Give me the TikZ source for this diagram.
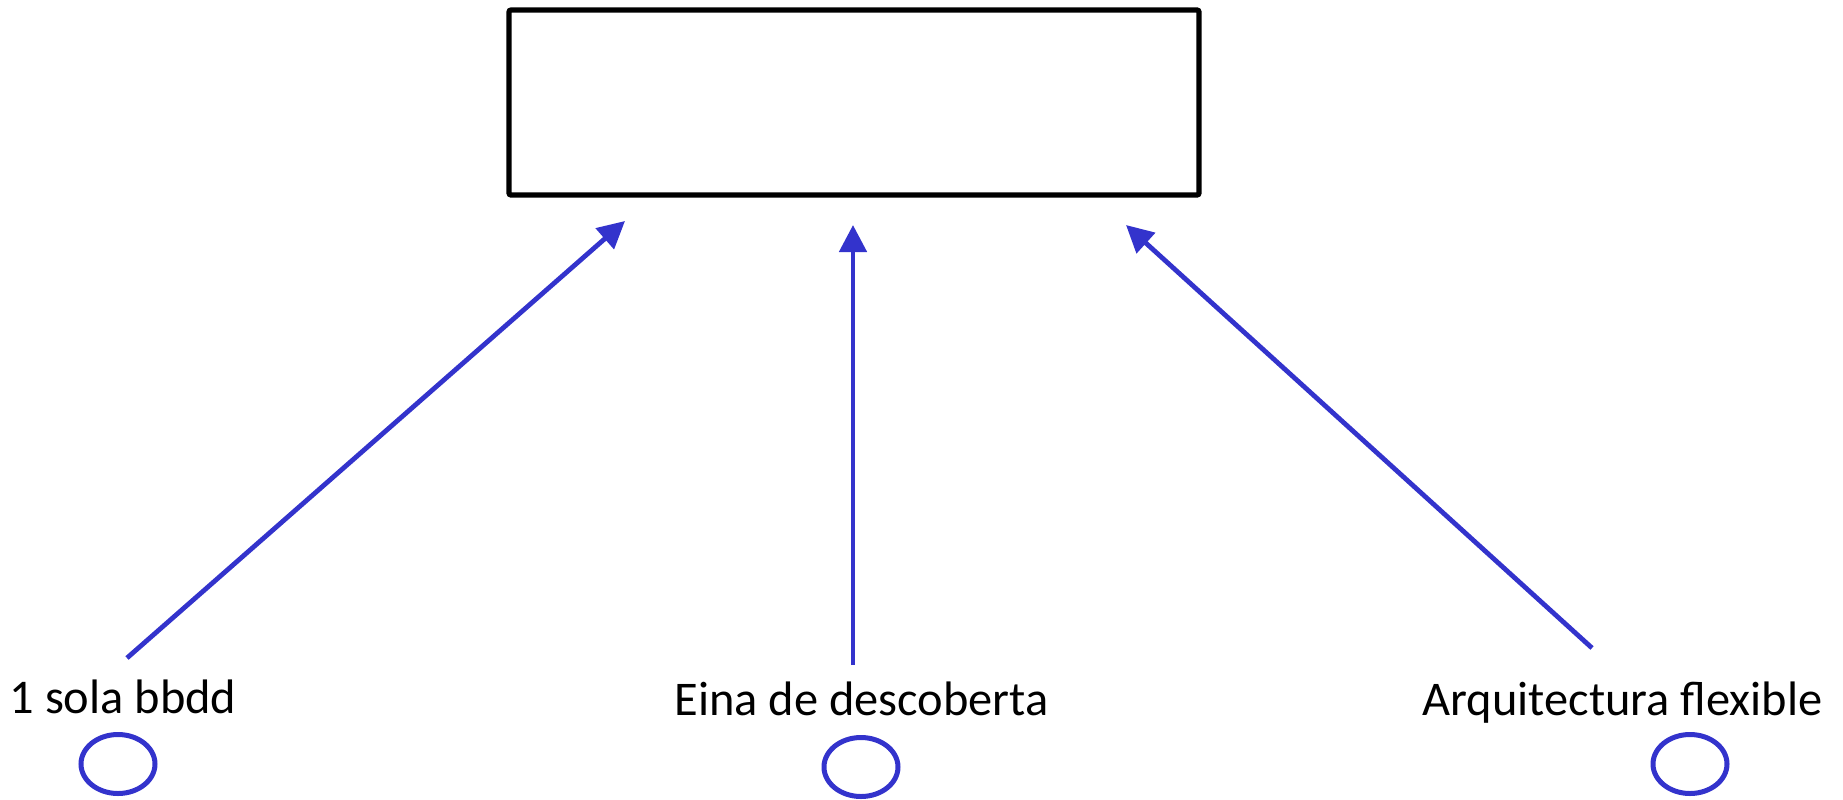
\documentclass[tikz,border=0pt]{standalone}
\usepackage{fontspec}
\setmainfont{Carlito}
\usepackage{xcolor}
\usetikzlibrary{arrows.meta,shapes.geometric}
\definecolor{arrblue}{RGB}{51,51,204}

\begin{document}
\begin{tikzpicture}[x=0.5pt, y=-0.5pt,
	every node/.style={font=\fontsize{24.2pt}{29pt}\selectfont},
	topbox/.style={draw=black, line width=2.6pt, rounded corners=1pt, minimum width=345pt, minimum height=92.5pt, inner sep=0},
	lbl/.style={anchor=base, inner sep=0},
	dot/.style={ellipse, draw=arrblue, line width=2.5pt, minimum width=37pt, minimum height=29.5pt, inner sep=0},
	arr/.style={draw=arrblue, line width=2.4pt, -{Triangle[length=13.5pt, width=13.5pt]}}]
	\useasboundingbox (0,0) rectangle (1843,799);

	\node[topbox] (goal) at (854,102.5) {};

	\node[lbl] (bbdd) at (123,713) {1 sola bbdd};
	\node[lbl] (eina) at (861.5,715) {Eina de descoberta};
	\node[lbl] (arq) at (1622.5,715) {Arquitectura flexible};

	\node[dot] (o1) at (118,764) {};
	\node[dot] (o2) at (861,767) {};
	\node[dot] (o3) at (1690,764) {};

	% arrow ends
	\coordinate (s1) at (127,658);
	\coordinate (t1) at (625,221);
	\coordinate (s2) at (853,665);
	\coordinate (t2) at (853,225);
	\coordinate (s3) at (1592,648);
	\coordinate (t3) at (1126,225);

	\draw[arr] (s1) -- (t1);
	\draw[arr] (s2) -- (t2);
	\draw[arr] (s3) -- (t3);
\end{tikzpicture}
\end{document}
